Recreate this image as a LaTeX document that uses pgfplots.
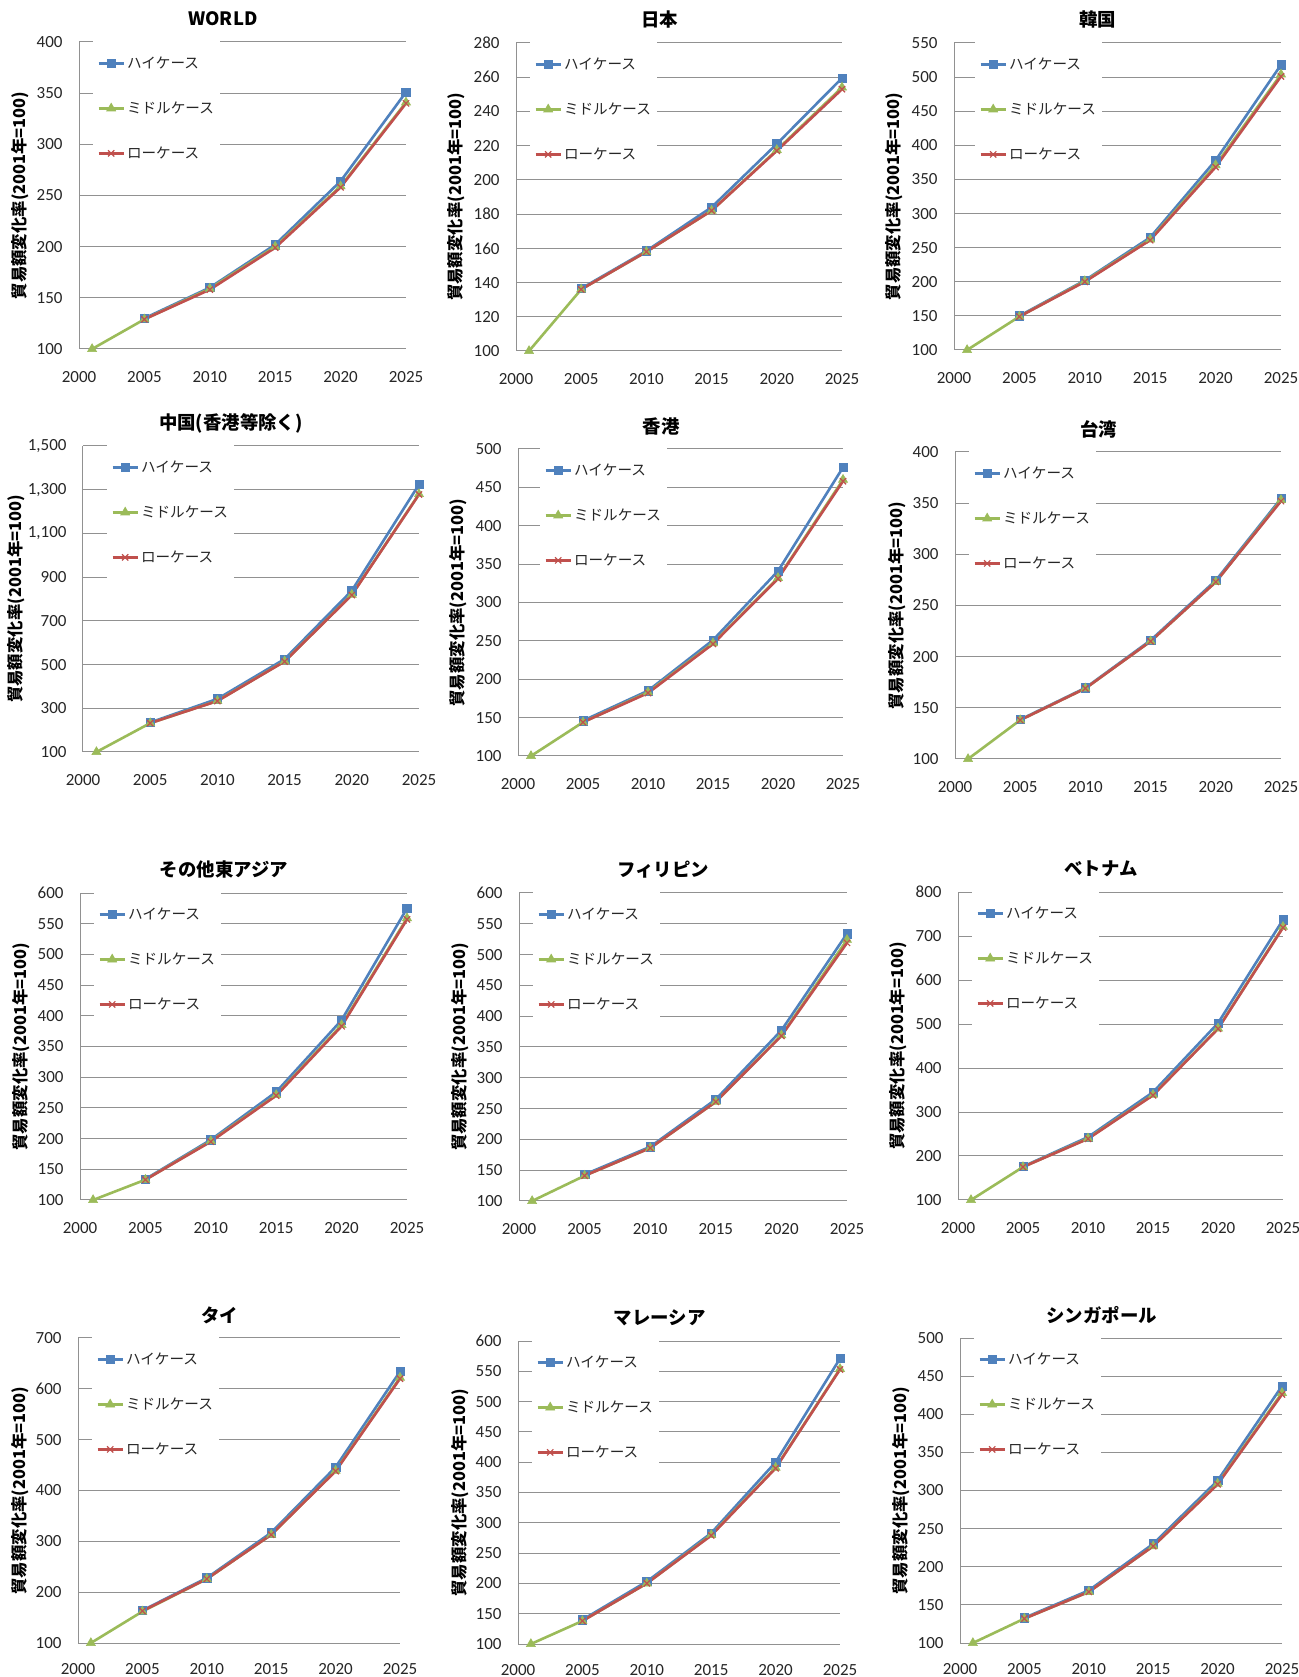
\documentclass[border=0pt]{standalone}
\usepackage{fontspec}
\usepackage{pgfplots}
\pgfplotsset{compat=1.18}
\setmainfont{Carlito}
\newfontfamily\jp{Noto Sans CJK JP}

\definecolor{hiblue}{RGB}{79,129,189}
\definecolor{midgreen}{RGB}{155,187,89}
\definecolor{lored}{RGB}{192,80,77}
\definecolor{gridcol}{RGB}{145,145,145}

\newcommand\titlefont{\jp\bfseries\fontsize{9.2}{11}\selectfont}
\newcommand\ylabfont{\jp\bfseries\fontsize{8.2}{10}\selectfont}

% title above the plot area and the rotated y label left of it
\newcommand\paneltext[2]{%
  \node[font=\titlefont,inner sep=0pt] at ([yshift=11.5pt]rel axis cs:0.44,1) {#1};
  \node[rotate=90,font=\ylabfont,inner sep=0pt] at ([xshift=#2]rel axis cs:0,0.5) {貿易額変化率(2001年=100)};
}

\pgfplotsset{
  panel/.style={
    scale only axis, anchor=south west, clip=false,
    xmin=2000, xmax=2025, xtick={2000,2005,...,2025},
    axis x line*=bottom, axis y line*=left,
    x axis line style={-}, y axis line style={-},
    axis line style={draw=gridcol, line width=0.5pt},
    ymajorgrids, major grid style={draw=gridcol, line width=0.5pt},
    major tick length=0pt,
    /pgf/number format/assume math mode=true,
    tick label style={font=\fontsize{8.5}{10}\selectfont, text=black!85},
    xticklabel style={yshift=-7.7pt, /pgf/number format/1000 sep={}},
    yticklabel style={xshift=-4.7pt},
    legend cell align=left,
    legend style={at={(rel axis cs:0,1)}, anchor=north west,
      xshift=7pt, yshift=0.5pt, draw=none, fill=white,
      inner xsep=2pt, inner ysep=7.5pt, row sep=15.5pt,
      font=\jp\fontsize{7.3}{9}\selectfont, text=black!85,
      nodes={inner ysep=0pt, inner xsep=1pt, text height=6pt, text depth=1pt},
      cells={anchor=west}},
    legend image code/.code={%
      \draw[mark repeat=2,mark phase=2] plot coordinates {(0pt,0pt) (6.25pt,0pt) (12.5pt,0pt)};},
  },
  % shifts below are added to the ones of the panel style
  bottomrow/.style={xticklabel style={yshift=1pt}},
  hi/.style={color=hiblue, line width=1.3pt, mark=square*, mark size=2.1pt,
    mark options={solid, fill=hiblue, line width=0.3pt}},
  mid/.style={color=midgreen, line width=1.3pt, mark=triangle*, mark size=2.6pt,
    mark options={solid, fill=midgreen, line width=0.3pt}},
  lo/.style={color=lored, line width=1.3pt, mark=x, mark size=2.2pt,
    mark options={solid, line width=0.6pt}},
}

\begin{document}
\begin{tikzpicture}
\fill[white,use as bounding box] (0,0) rectangle (649.5pt,838.5pt);

% ---- row 1 ----
\begin{axis}[panel, at={(39.5pt,664pt)}, width=163.5pt, height=153.5pt,
  ymin=100, ymax=400, ytick={100,150,...,400}]
\addplot[hi]  coordinates {(2005,130) (2010,160) (2015,202) (2020,264) (2025,351)};
\addplot[mid] coordinates {(2001,100) (2005,129) (2010,159) (2015,200) (2020,259) (2025,341)};
\addplot[lo]  coordinates {(2005,129) (2010,158) (2015,199) (2020,258) (2025,340)};
\legend{ハイケース,ミドルケース,ローケース}
\paneltext{WORLD}{-29.5pt}
\end{axis}

\begin{axis}[panel, at={(258pt,663pt)}, width=163pt, height=154pt,
  ymin=100, ymax=280, ytick={100,120,...,280}]
\addplot[hi]  coordinates {(2005,136.5) (2010,158.5) (2015,184) (2020,221) (2025,259.5)};
\addplot[mid] coordinates {(2001,100) (2005,136) (2010,158) (2015,182) (2020,217.5) (2025,254)};
\addplot[lo]  coordinates {(2005,136) (2010,158) (2015,182) (2020,217) (2025,253)};
\legend{ハイケース,ミドルケース,ローケース}
\paneltext{日本}{-30pt}
\end{axis}

\begin{axis}[panel, at={(477pt,663.5pt)}, width=163.5pt, height=153.5pt,
  ymin=100, ymax=550, ytick={100,150,...,550},
  legend style={xshift=3.5pt}]
\addplot[hi]  coordinates {(2005,150) (2010,202) (2015,265) (2020,378) (2025,518)};
\addplot[mid] coordinates {(2001,100) (2005,149) (2010,201) (2015,262) (2020,371) (2025,504)};
\addplot[lo]  coordinates {(2005,149) (2010,200) (2015,261) (2020,368) (2025,501)};
\legend{ハイケース,ミドルケース,ローケース}
\paneltext{韓国}{-30pt}
\end{axis}

% ---- row 2 ----
\begin{axis}[panel, at={(41.5pt,462.5pt)}, width=168pt, height=153pt,
  ymin=100, ymax=1500, ytick={100,300,...,1500},
  legend style={xshift=5pt}]
\addplot[hi]  coordinates {(2005,235) (2010,343) (2015,525) (2020,838) (2025,1324)};
\addplot[mid] coordinates {(2001,100) (2005,232) (2010,334) (2015,515) (2020,820) (2025,1280)};
\addplot[lo]  coordinates {(2005,232) (2010,333) (2015,514) (2020,818) (2025,1278)};
\legend{ハイケース,ミドルケース,ローケース}
\paneltext{中国(香港等除く)}{-33.5pt}
\end{axis}

\begin{axis}[panel, at={(259pt,460.5pt)}, width=162.5pt, height=153.5pt,
  ymin=100, ymax=500, ytick={100,150,...,500},
  legend style={xshift=4pt}]
\addplot[hi]  coordinates {(2005,146) (2010,185) (2015,251) (2020,341) (2025,476)};
\addplot[mid] coordinates {(2001,100) (2005,144) (2010,183) (2015,247) (2020,332) (2025,460)};
\addplot[lo]  coordinates {(2005,144) (2010,182) (2015,246) (2020,331) (2025,458)};
\legend{ハイケース,ミドルケース,ローケース}
\paneltext{香港}{-30pt}
\end{axis}

\begin{axis}[panel, at={(477.5pt,459pt)}, width=163pt, height=153.5pt,
  ymin=100, ymax=400, ytick={100,150,...,400}]
\addplot[hi]  coordinates {(2005,138.5) (2010,169.5) (2015,216) (2020,274.5) (2025,354.5)};
\addplot[mid] coordinates {(2001,100) (2005,138) (2010,169) (2015,215) (2020,273) (2025,353)};
\addplot[lo]  coordinates {(2005,138) (2010,169) (2015,215) (2020,273) (2025,352)};
\legend{ハイケース,ミドルケース,ローケース}
\paneltext{台湾}{-29pt}
\end{axis}

% ---- row 3 ----
\begin{axis}[panel, at={(40pt,238.5pt)}, width=163.5pt, height=153.5pt,
  ymin=100, ymax=600, ytick={100,150,...,600}]
\addplot[hi]  coordinates {(2005,134) (2010,198) (2015,276) (2020,393) (2025,575)};
\addplot[mid] coordinates {(2001,100) (2005,133) (2010,196) (2015,271) (2020,385) (2025,559)};
\addplot[lo]  coordinates {(2005,133) (2010,195) (2015,270) (2020,383) (2025,557)};
\legend{ハイケース,ミドルケース,ローケース}
\paneltext{その他東アジア}{-29.5pt}
\end{axis}

\begin{axis}[panel, at={(259.5pt,238pt)}, width=164pt, height=154pt,
  ymin=100, ymax=600, ytick={100,150,...,600}]
\addplot[hi]  coordinates {(2005,143) (2010,188) (2015,265) (2020,377) (2025,534)};
\addplot[mid] coordinates {(2001,100) (2005,141) (2010,186) (2015,261) (2020,369) (2025,524)};
\addplot[lo]  coordinates {(2005,141) (2010,186) (2015,261) (2020,368) (2025,519)};
\legend{ハイケース,ミドルケース,ローケース}
\paneltext{フィリピン}{-29.5pt}
\end{axis}

\begin{axis}[panel, at={(479pt,238.5pt)}, width=162.5pt, height=154pt,
  ymin=100, ymax=800, ytick={100,200,...,800}]
\addplot[hi]  coordinates {(2005,176) (2010,243) (2015,345) (2020,502) (2025,737)};
\addplot[mid] coordinates {(2001,100) (2005,175) (2010,240) (2015,339) (2020,490) (2025,721)};
\addplot[lo]  coordinates {(2005,175) (2010,239) (2015,338) (2020,489) (2025,719)};
\legend{ハイケース,ミドルケース,ローケース}
\paneltext{ベトナム}{-30pt}
\end{axis}

% ---- row 4 ----
\begin{axis}[panel, bottomrow, at={(39pt,17pt)}, width=161pt, height=152.5pt,
  ymin=100, ymax=700, ytick={100,200,...,700}]
\addplot[hi]  coordinates {(2005,164) (2010,228) (2015,317) (2020,446) (2025,634)};
\addplot[mid] coordinates {(2001,100) (2005,162) (2010,226) (2015,313) (2020,439) (2025,622)};
\addplot[lo]  coordinates {(2005,163) (2010,226) (2015,313) (2020,438) (2025,620)};
\legend{ハイケース,ミドルケース,ローケース}
\paneltext{タイ}{-29pt}
\end{axis}

\begin{axis}[panel, bottomrow, at={(259pt,16.5pt)}, width=161pt, height=151.5pt,
  ymin=100, ymax=600, ytick={100,150,...,600}]
\addplot[hi]  coordinates {(2005,140) (2010,203) (2015,283) (2020,400) (2025,571)};
\addplot[mid] coordinates {(2001,100) (2005,138) (2010,200) (2015,280) (2020,391) (2025,554)};
\addplot[lo]  coordinates {(2005,138) (2010,200) (2015,279) (2020,390) (2025,553)};
\legend{ハイケース,ミドルケース,ローケース}
\paneltext{マレーシア}{-29pt}
\end{axis}

\begin{axis}[panel, bottomrow, at={(480pt,17pt)}, width=161pt, height=152.5pt,
  ymin=100, ymax=500, ytick={100,150,...,500}]
\addplot[hi]  coordinates {(2005,133) (2010,169) (2015,230) (2020,313) (2025,437)};
\addplot[mid] coordinates {(2001,100) (2005,132) (2010,167) (2015,227) (2020,309) (2025,428)};
\addplot[lo]  coordinates {(2005,132) (2010,167) (2015,227) (2020,308) (2025,426)};
\legend{ハイケース,ミドルケース,ローケース}
\paneltext{シンガポール}{-29.5pt}
\end{axis}
\end{tikzpicture}
\end{document}
